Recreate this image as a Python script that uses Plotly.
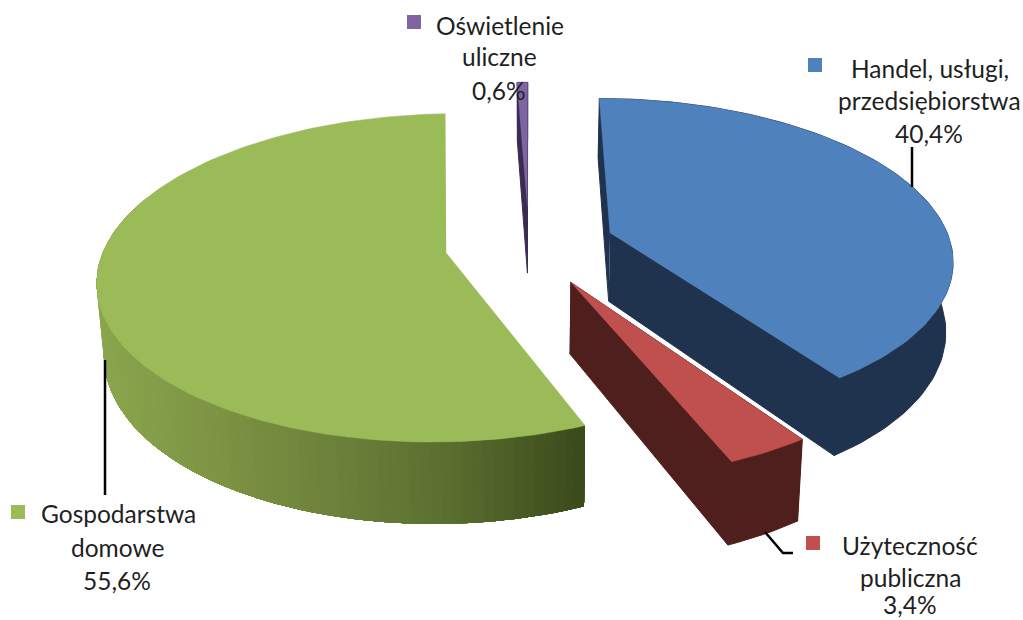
import numpy as np
import plotly.graph_objects as go

# ---- data ----
categories = ["Handel, usługi, przedsiębiorstwa", "Użyteczność publiczna", "Gospodarstwa domowe", "Oświetlenie uliczne"]
values = [40.4, 3.4, 55.6, 0.6]
value_labels = ["40,4%", "3,4%", "55,6%", "0,6%"]
top_colors = ["#4f81bd", "#c0504d", "#9bbb59", "#8064a2"]
wall_colors = ["#1f334e", "#4f1f1d", "#5f7536", "#3a2c50"]

# ---- projection of the exploded 3-D pie ----
CX, CY = 527.0, 245.0
RX, RY = 341.0, 158.0
PERSP = 0.15
explode = [88.0 / 341.0, 88.0 / 341.0, 81.0 / 341.0, 86.0 / 341.0]
radius = [1.0, 0.985, 1.0, 0.965]
nudge_x = [0.0, 0.0, -1.0, 2.0]
THICK = 69.0
SHRINK = 0.983


def project(u, v, dx=0.0, lowered=False):
    s = 1.0 / (1.0 + PERSP * v)
    x = RX * u * s
    y = -RY * v * s
    if lowered:
        return CX + dx + x * SHRINK, CY + y + THICK * s
    return CX + dx + x, CY + y


GREEN_STOPS = [(100, (0x8b, 0xa6, 0x4d)), (300, (0x72, 0x88, 0x3e)), (450, (0x5b, 0x70, 0x30)), (585, (0x3c, 0x4b, 0x1c))]


def green_rim(x):
    xs = [p[0] for p in GREEN_STOPS]
    rgb = [np.interp(x, xs, [p[1][i] for p in GREEN_STOPS]) for i in range(3)]
    return "rgb(%d,%d,%d)" % tuple(int(c) for c in rgb)


def poly(pts, color, lw=1.0):
    line = dict(color=color, width=lw) if lw else dict(width=0)
    return go.Scatter(x=[q[0] for q in pts], y=[q[1] for q in pts], mode="lines", fill="toself",
                      fillcolor=color, line=line, hoverinfo="skip", showlegend=False)


fig = go.Figure()
total = sum(values)
edges = np.concatenate([[0], np.cumsum(values)]) / total * 2 * np.pi
order = [3, 0, 1, 2]  # painter's order: back to front

for i in order:
    a0, a1 = edges[i], edges[i + 1]
    mid = (a0 + a1) / 2
    ou, ov = explode[i] * np.sin(mid), explode[i] * np.cos(mid)
    n = max(4, int((a1 - a0) / np.radians(1.5)))
    angs = np.linspace(a0, a1, n + 1)
    us = ou + radius[i] * np.sin(angs)
    vs = ov + radius[i] * np.cos(angs)
    d = nudge_x[i]
    up = [project(a, b, d) for a, b in zip(us, vs)]
    lo = [project(a, b, d, True) for a, b in zip(us, vs)]
    # outer rim
    if i == 2:
        # overlapping bands, painted from the far left towards the right end: no seams
        for k in range(n - 1, -1, -1):
            if vs[k] < 0.3:
                pts = up[:k + 2] + lo[:k + 2][::-1]
                fig.add_trace(poly(pts, green_rim(up[k][0]), lw=0))
    else:
        fig.add_trace(poly(up + lo[::-1], wall_colors[i]))
    # radial walls
    if i != 2:
        for j in (0, -1):
            pts = [project(ou, ov, d), up[j], lo[j], project(ou, ov, d, True)]
            fig.add_trace(poly(pts, wall_colors[i]))
    # top face
    fig.add_trace(poly([project(ou, ov, d)] + up, top_colors[i], lw=0.5))

# ---- label layout ----
label_lines = [
    ("Oświetlenie", 500, 25), ("uliczne", 499, 56), (value_labels[3], 499, 90),
    ("Handel, usługi,", 930, 68), ("przedsiębiorstwa", 929, 100), (value_labels[0], 929, 133),
    ("Gospodarstwa", 118, 513), ("domowe", 117, 547), (value_labels[2], 117, 580),
    ("Użyteczność", 910, 545), ("publiczna", 910, 577), (value_labels[1], 910, 604),
]
key_x = [815, 813, 18, 414]
key_y = [65, 543, 512, 22]
leaders = [([912, 912], [147, 187]), ([765, 783, 793], [532, 553, 553]), ([105, 105], [360, 495])]

for lx, ly in leaders:
    fig.add_trace(go.Scatter(x=lx, y=ly, mode="lines", line=dict(color="#000000", width=2.5),
                             hoverinfo="skip", showlegend=False))
fig.add_trace(go.Scatter(x=key_x, y=key_y, mode="markers",
                         marker=dict(symbol="square", size=14, color=top_colors),
                         hoverinfo="skip", showlegend=False))
for t, x, y in label_lines:
    fig.add_annotation(x=x, y=y, text=t, showarrow=False, xanchor="center", yanchor="middle",
                       font=dict(family="Lato", size=24.5, color="#1f1f1f"))

fig.update_xaxes(range=[0, 1023], visible=False, fixedrange=True)
fig.update_yaxes(range=[620, 0], visible=False, fixedrange=True)
fig.update_layout(width=1023, height=620, margin=dict(l=0, r=0, t=0, b=0), autosize=False,
                  paper_bgcolor="#ffffff", plot_bgcolor="#ffffff", showlegend=False)
fig.write_html("out.html", config={"displayModeBar": False},
               post_script="document.body.style.margin='0';document.body.style.overflow='hidden';")
